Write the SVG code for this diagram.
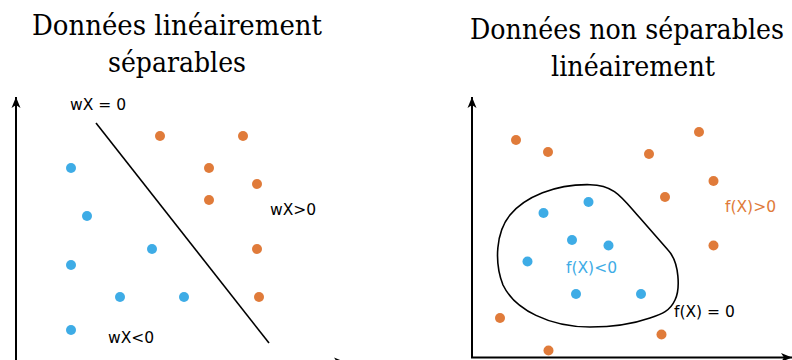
<svg xmlns="http://www.w3.org/2000/svg" width="792" height="360" viewBox="0 0 792 360">
<defs>
<style>
.lbl{font-family:'DejaVu Sans','Noto Sans',sans-serif;font-size:15.5px;fill:#000}
.ttl{font-family:'DejaVu Serif','Liberation Serif',serif;font-size:28px;fill:#000}
.axis{stroke:#000;stroke-width:2;fill:none}
.b{fill:#3eace6}
.o{fill:#e07b3a}
.sep{stroke:#000;stroke-width:1.6;fill:none}
</style>
<marker id="arr" viewBox="-11 -5 12 10" refX="0" refY="0" markerWidth="12" markerHeight="10" markerUnits="userSpaceOnUse" orient="auto">
<path d="M0,0 L-11,-4.5 L-8,0 L-11,4.5 Z" fill="#000"/>
</marker>
</defs>
<g id="titles">
<text class="ttl" x="32" y="35" textLength="290" lengthAdjust="spacingAndGlyphs">Données linéairement</text>
<text class="ttl" x="108" y="72" textLength="138" lengthAdjust="spacingAndGlyphs">séparables</text>
<text class="ttl" x="470" y="39" textLength="314" lengthAdjust="spacingAndGlyphs">Données non séparables</text>
<text class="ttl" x="551" y="76" textLength="164" lengthAdjust="spacingAndGlyphs">linéairement</text>
</g>
<g id="axes">
<path class="axis" d="M16,372 L16,97" marker-end="url(#arr)"/>
<path class="axis" d="M16,362 L345,362" marker-end="url(#arr)"/>
<path class="axis" d="M472,357.5 L472,97" marker-end="url(#arr)"/>
<path class="axis" d="M471,357.5 L792,357.5" marker-end="url(#arr)"/>
</g>
<g id="connectors">
<line class="sep" x1="96" y1="123" x2="269" y2="343"/>
<path class="sep" d="M590,184.7 C615,185 622,198 640,218 L668,250 C680,263 680,290 675,300 C670,311 662,314 650,318 C630,325 610,327 590,327 C550,327 515,310 503,285 C494,262 496,232 510,215 C525,197 555,184 590,184.7 Z"/>
</g>
<g id="left-points">
<circle class="o" cx="160" cy="136" r="5"/>
<circle class="o" cx="243" cy="136" r="5"/>
<circle class="o" cx="209" cy="168" r="5"/>
<circle class="o" cx="257" cy="184" r="5"/>
<circle class="o" cx="209" cy="200" r="5"/>
<circle class="o" cx="257" cy="249" r="5"/>
<circle class="o" cx="259" cy="297" r="5"/>
<circle class="b" cx="71" cy="168" r="5"/>
<circle class="b" cx="87" cy="216" r="5"/>
<circle class="b" cx="152" cy="249" r="5"/>
<circle class="b" cx="71" cy="265" r="5"/>
<circle class="b" cx="120" cy="297" r="5"/>
<circle class="b" cx="184" cy="297" r="5"/>
<circle class="b" cx="71" cy="330" r="5"/>
</g>
<g id="right-points">
<circle class="o" cx="516" cy="140" r="5"/>
<circle class="o" cx="548" cy="152" r="5"/>
<circle class="o" cx="649" cy="154" r="5"/>
<circle class="o" cx="699" cy="132" r="5"/>
<circle class="o" cx="713.5" cy="181" r="5"/>
<circle class="o" cx="665" cy="197" r="5"/>
<circle class="o" cx="713.5" cy="245.5" r="5"/>
<circle class="o" cx="500" cy="318" r="5"/>
<circle class="o" cx="661.5" cy="334.5" r="5"/>
<circle class="o" cx="548.5" cy="350.5" r="5"/>
<circle class="b" cx="588.5" cy="202" r="5"/>
<circle class="b" cx="543.5" cy="213" r="5"/>
<circle class="b" cx="572" cy="240" r="5"/>
<circle class="b" cx="608.5" cy="245.5" r="5"/>
<circle class="b" cx="527.5" cy="261.5" r="5"/>
<circle class="b" cx="576" cy="294" r="5"/>
<circle class="b" cx="641" cy="294" r="5"/>
</g>
<g id="labels">
<text class="lbl" x="70" y="110">wX = 0</text>
<text class="lbl" x="270" y="215">wX&gt;0</text>
<text class="lbl" x="108" y="343">wX&lt;0</text>
<text class="lbl" x="725" y="212" style="fill:#e07b3a">f(X)&gt;0</text>
<text class="lbl" x="566" y="273" style="fill:#3eace6">f(X)&lt;0</text>
<text class="lbl" x="674" y="317">f(X) = 0</text>
</g>
</svg>
